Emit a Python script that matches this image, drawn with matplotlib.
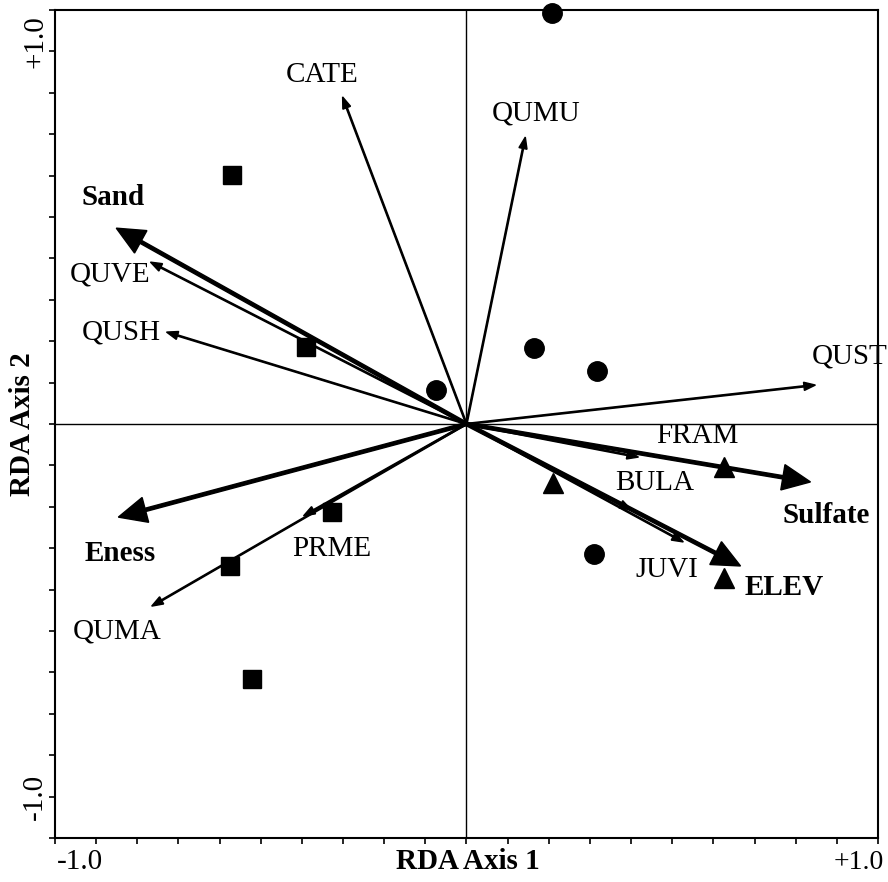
import matplotlib.pyplot as plt

plt.rcParams['font.family'] = ['Liberation Serif', 'DejaVu Serif']

# site scores
circle_x = [0.207, 0.165, 0.316, -0.073, 0.311]
circle_y = [0.993, 0.184, 0.128, 0.082, -0.314]
square_x = [-0.569, -0.389, -0.326, -0.574, -0.522]
square_y = [0.601, 0.186, -0.213, -0.343, -0.616]
tri_x = [0.211, 0.627, 0.627]
tri_y = [-0.143, -0.104, -0.372]

# environmental variables (bold arrows)
env_names = ["Sand", "Eness", "Sulfate", "ELEV"]
env_x = [-0.851, -0.846, 0.836, 0.666]
env_y = [0.473, -0.225, -0.140, -0.343]
env_lab_x = [-0.858, -0.841, 0.875, 0.773]
env_lab_y = [0.548, -0.312, -0.220, -0.394]

# species (thin arrows)
sp_names = ["CATE", "QUMU", "QUVE", "QUSH", "QUST", "FRAM", "BULA", "JUVI", "PRME", "QUMA"]
sp_x = [-0.301, 0.143, -0.768, -0.729, 0.848, 0.418, 0.400, 0.527, -0.396, -0.765]
sp_y = [0.790, 0.693, 0.391, 0.222, 0.094, -0.080, -0.207, -0.285, -0.222, -0.440]
sp_lab_x = [-0.350, 0.170, -0.865, -0.840, 0.931, 0.561, 0.457, 0.486, -0.328, -0.850]
sp_lab_y = [0.842, 0.751, 0.360, 0.222, 0.162, -0.029, -0.143, -0.353, -0.302, -0.502]

fig = plt.figure(figsize=(8.88, 8.82), dpi=100)
ax = fig.add_axes([0.0619, 0.0499, 0.9268, 0.9388])
ax.set_xlim(-1, 1)
ax.set_ylim(-1, 1)

ax.axhline(0, color='black', lw=1.0, zorder=1)
ax.axvline(0, color='black', lw=1.0, zorder=1)

for x, y in zip(sp_x, sp_y):
    ax.arrow(0, 0, x, y, width=0.003, head_width=0.02, head_length=0.028,
             length_includes_head=True, fc='black', ec='black', zorder=2)
for x, y in zip(env_x, env_y):
    ax.arrow(0, 0, x, y, width=0.008, head_width=0.062, head_length=0.068,
             length_includes_head=True, fc='black', ec='black', zorder=3)

ax.plot(circle_x, circle_y, 'o', color='black', ms=14, zorder=4, clip_on=False)
ax.plot(square_x, square_y, 's', color='black', ms=13, zorder=4)
ax.plot(tri_x, tri_y, '^', color='black', ms=14, zorder=4)

for name, x, y in zip(sp_names, sp_lab_x, sp_lab_y):
    ax.text(x, y, name, ha='center', va='center', fontsize=21)
for name, x, y in zip(env_names, env_lab_x, env_lab_y):
    ax.text(x, y, name, ha='center', va='center', fontsize=21, fontweight='bold')

ticks = [i / 10 for i in range(-10, 11)]
ax.set_xticks(ticks)
ax.set_yticks(ticks)
ax.set_xticklabels([])
ax.set_yticklabels([])
ax.tick_params(direction='out', length=4, width=1.2)
for s in ax.spines.values():
    s.set_linewidth(1.5)

ax.text(-0.94, -1.058, "-1.0", ha='center', va='center', fontsize=21)
ax.text(0.953, -1.058, "+1.0", ha='center', va='center', fontsize=20)
ax.text(-1.048, 0.923, "+1.0", ha='center', va='center', fontsize=21, rotation=90)
ax.text(-1.048, -0.90, "-1.0", ha='center', va='center', fontsize=21, rotation=90)

fig.text(0.527, 0.0227, "RDA Axis 1", ha='center', va='center', fontsize=21, fontweight='bold')
fig.text(0.0248, 0.519, "RDA Axis 2", ha='center', va='center', fontsize=21,
         fontweight='bold', rotation=90)

fig.savefig("out.png", dpi=100)
